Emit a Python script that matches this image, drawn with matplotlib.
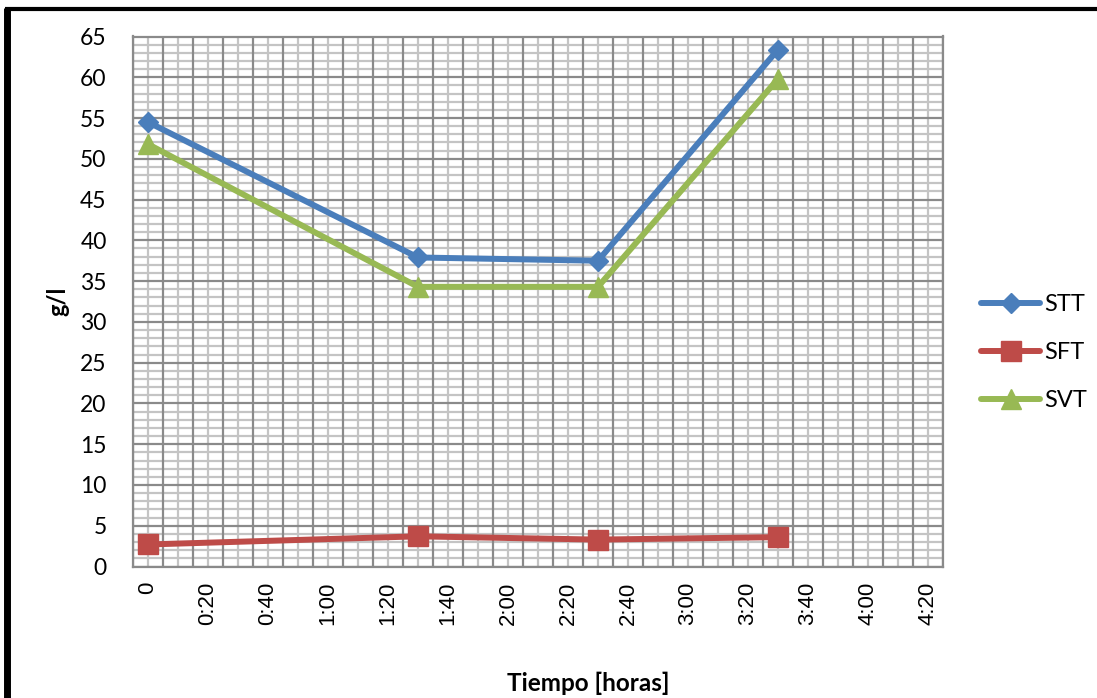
import matplotlib
matplotlib.use("Agg")
import matplotlib.pyplot as plt
from matplotlib.lines import Line2D

# Data (time in minutes)
time_min = [0, 90, 150, 210]
stt = [54.5, 37.9, 37.5, 63.4]
sft = [2.7, 3.7, 3.3, 3.6]
svt = [51.8, 34.3, 34.3, 59.8]
series_names = ["STT", "SFT", "SVT"]
x_tick_values = list(range(0, 261, 20))
x_tick_labels = ["0", "0:20", "0:40", "1:00", "1:20", "1:40", "2:00", "2:20",
                 "2:40", "3:00", "3:20", "3:40", "4:00", "4:20"]
y_ticks = list(range(0, 66, 5))

W, H = 1097, 698
fig = plt.figure(figsize=(W / 100, H / 100), dpi=100)
ax = fig.add_axes([133 / W, 1 - 566.5 / H, (943 - 133) / W, (566.5 - 36.5) / H])

ax.set_xlim(-5, 265)
ax.set_ylim(0, 65)

major_c = "#8a8a8a"
minor_c = "#c4c4c4"
for v in range(0, 66):
    if v % 5:
        ax.axhline(v, color=minor_c, lw=1.6, zorder=0)
for v in range(0, 261, 10):
    ax.axvline(v, color=minor_c, lw=1.6, zorder=0)
for v in range(0, 66, 5):
    ax.axhline(v, color=major_c, lw=1.6, zorder=0.5)
for v in range(-5, 266, 10):
    ax.axvline(v, color=major_c, lw=1.6, zorder=0.5)

for s in ax.spines.values():
    s.set_color(major_c)
    s.set_linewidth(1.6)

blue, red, green = "#4a7ebb", "#be4b48", "#98b954"
ax.plot(time_min, stt, color=blue, lw=4.3, marker="D", markersize=10.5, zorder=3,
        solid_capstyle="round")
ax.plot(time_min, sft, color=red, lw=4.3, marker="s", markersize=14, zorder=3,
        solid_capstyle="round")
ax.plot(time_min, svt, color=green, lw=4.3, marker="^", markersize=15, zorder=3,
        solid_capstyle="round")

ax.set_xticks(x_tick_values)
ax.set_xticklabels(x_tick_labels, rotation=90, fontsize=16,
                   family=["Liberation Sans", "DejaVu Sans"])
ax.set_yticks(y_ticks)
ax.set_yticklabels([str(v) for v in y_ticks], fontsize=16.5, family=["Lato", "DejaVu Sans"])
ax.tick_params(axis="x", length=0, pad=11)
ax.tick_params(axis="y", length=0, pad=19)
for lab in ax.get_xticklabels():
    lab.set_va("top")

fig.text(58 / W, 1 - 301 / H, "g/l", rotation=90, ha="center", va="center",
         fontsize=17, fontweight="bold", family=["Lato", "DejaVu Sans"])
fig.text(588 / W, 1 - 683 / H, "Tiempo [horas]", ha="center", va="center",
         fontsize=17.5, fontweight="bold", family=["Lato", "DejaVu Sans"])

handles = [
    Line2D([], [], color=blue, lw=4.3, marker="D", markersize=10.5, solid_capstyle="round"),
    Line2D([], [], color=red, lw=4.3, marker="s", markersize=14, solid_capstyle="round"),
    Line2D([], [], color=green, lw=4.3, marker="^", markersize=15, solid_capstyle="round"),
]
leg = fig.legend(handles, series_names, loc="center left",
                 bbox_to_anchor=(972 / W, 1 - 352.5 / H), frameon=False,
                 prop={"family": ["Lato", "DejaVu Sans"], "size": 17},
                 handlelength=2.5, handletextpad=0.15, labelspacing=1.15,
                 borderaxespad=0)

# outer chart border (left and top)
fig.add_artist(Line2D([7 / W, 7 / W], [0, 1 - 8 / H], color="black", lw=5,
                      transform=fig.transFigure, solid_capstyle="butt"))
fig.add_artist(Line2D([4.5 / W, 1], [1 - 8.5 / H, 1 - 8.5 / H], color="black", lw=3,
                      transform=fig.transFigure, solid_capstyle="butt"))

fig.savefig("out.png", dpi=100, facecolor="white")
